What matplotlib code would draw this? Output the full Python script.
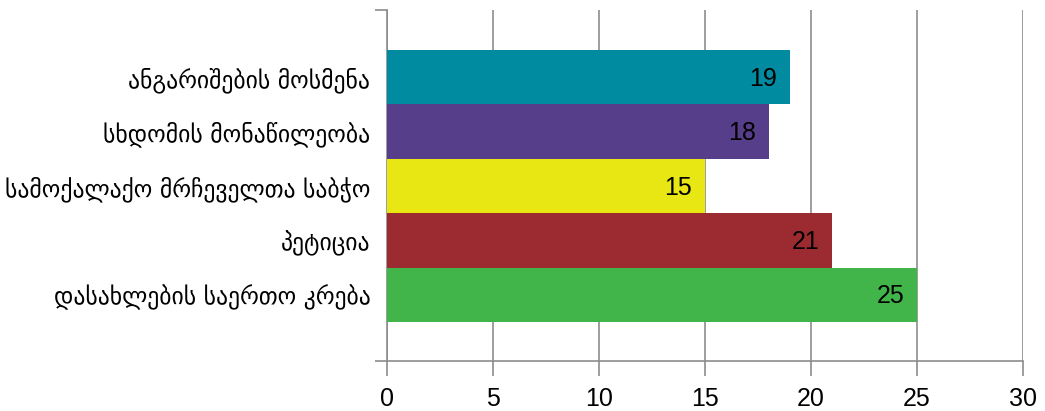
import matplotlib
matplotlib.use("Agg")
import matplotlib.pyplot as plt
import numpy as np

categories = [
    "დასახლების საერთო კრება",
    "პეტიცია",
    "სამოქალაქო მრჩეველთა საბჭო",
    "სხდომის მონაწილეობა",
    "ანგარიშების მოსმენა",
]
values = [25, 21, 15, 18, 19]
colors = ["#42b54a", "#9c2b31", "#e8e613", "#573e8a", "#008ba1"]
x_ticks = [0, 5, 10, 15, 20, 25, 30]

num_font = ["Liberation Sans", "DejaVu Sans"]
grid_color = "#8c8c8c"

fig = plt.figure(figsize=(10.45, 4.11), dpi=100)
ax = fig.add_axes([0.3703, 0.1217, 0.6087, 0.854])

y = np.arange(len(categories))
ax.barh(y, values, height=1.0, color=colors, zorder=3)

for yi, v in zip(y, values):
    ax.text(v - 0.6, yi - 0.03, str(v), ha="right", va="center", fontsize=18,
            family=num_font, color="black", zorder=4)

ax.set_xlim(0, 30)
ax.set_ylim(-1.217, 5.235)
ax.set_xticks(x_ticks)
ax.set_xticklabels([str(t) for t in x_ticks], family=num_font, fontsize=18)
ax.set_yticks(y)
ax.set_yticklabels(categories, family=["DejaVu Sans"], fontsize=17)

ax.xaxis.grid(True, color=grid_color, linewidth=1.2, zorder=0)
ax.tick_params(axis="x", length=11, width=1.2, color=grid_color, pad=8)
ax.tick_params(axis="y", length=0, pad=12)

# short end marks on the left of the value axis
ax.set_yticks([-1.217, 5.235], minor=True)
ax.tick_params(axis="y", which="minor", length=9, width=1.2, color=grid_color)

for side in ["top", "right"]:
    ax.spines[side].set_visible(False)
for side in ["left", "bottom"]:
    ax.spines[side].set_color(grid_color)
    ax.spines[side].set_linewidth(1.2)

fig.savefig("out.png", dpi=100)
